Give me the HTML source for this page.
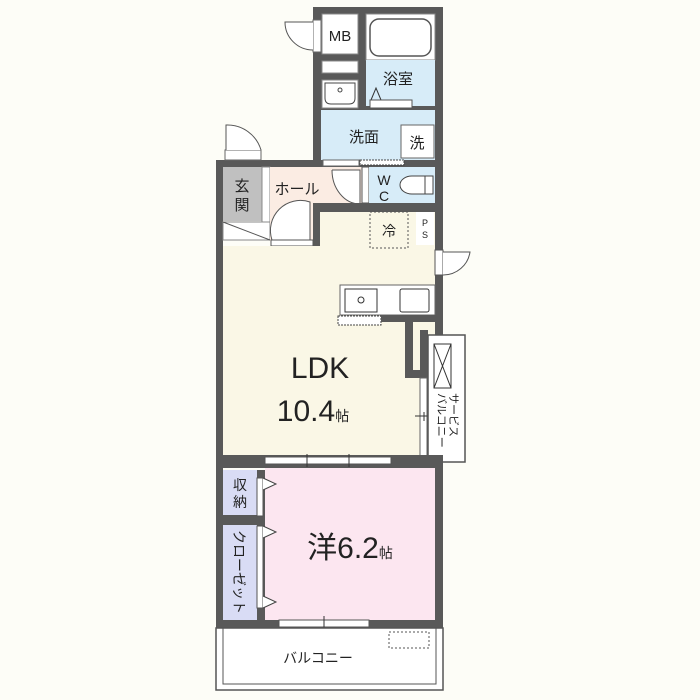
<!DOCTYPE html>
<html><head><meta charset="utf-8"><style>
html,body{margin:0;padding:0;background:#fdfdf7;}
svg{display:block}
text{font-family:"Liberation Sans","Noto Sans CJK JP",sans-serif;fill:#222}
</style></head><body>
<svg width="700" height="700" viewBox="0 0 700 700" xmlns="http://www.w3.org/2000/svg">
<rect width="700" height="700" fill="#fdfdf7"/>
<rect x="313" y="7" width="130" height="206" fill="#595959"/>
<rect x="322" y="14" width="36" height="40" fill="#fff" stroke="#888" stroke-width="1"/>
<text x="340" y="41" font-size="15" text-anchor="middle">MB</text>
<rect x="313" y="20" width="8" height="32" fill="#fff" stroke="#666"/>
<path d="M313 22 H285 A28 28 0 0 0 313 50" fill="#fff" stroke="#555"/>
<rect x="366" y="14" width="69" height="46" fill="#fff" stroke="#888"/>
<rect x="370" y="19" width="61" height="37" rx="9" fill="#fff" stroke="#555" stroke-width="1.5"/>
<rect x="366" y="60" width="69" height="46" fill="#d7ecf8"/>
<text x="398" y="84" font-size="15" text-anchor="middle">浴室</text>
<path d="M371 100 L376 88 L381 100" fill="none" stroke="#333"/>
<rect x="370" y="100" width="42" height="8" fill="#fff" stroke="#555"/>
<rect x="322" y="61" width="36" height="12" fill="#fff" stroke="#888"/>
<rect x="322" y="80" width="36" height="28" fill="#fff" stroke="#888"/>
<path d="M325 83 H355 V98 Q355 104 349 104 H331 Q325 104 325 98 Z" fill="#fff" stroke="#444"/>
<circle cx="340" cy="90" r="2" fill="none" stroke="#444"/>
<rect x="321" y="110" width="114" height="50" fill="#d7ecf8"/>
<text x="364" y="142" font-size="15" text-anchor="middle">洗面</text>
<rect x="401" y="125" width="33" height="33" fill="#fff" stroke="#666"/>
<text x="417" y="148" font-size="15" text-anchor="middle">洗</text>
<rect x="323" y="160" width="36" height="6" fill="#fff" stroke="#666"/>
<rect x="360" y="160" width="44" height="5" fill="#fff" stroke="#444" stroke-dasharray="2 1"/>
<rect x="216" y="160" width="104" height="7" fill="#595959"/>
<rect x="216" y="160" width="7" height="465" fill="#595959"/>
<rect x="435" y="200" width="8" height="135" fill="#595959"/>
<rect x="225" y="150" width="36" height="10" fill="#fff" stroke="#666"/>
<path d="M226 150 V125 A35 35 0 0 1 261 150" fill="#fff" stroke="#555"/>
<rect x="223" y="167" width="39" height="54" fill="#c0c0c0"/>
<text x="242" y="191" font-size="15" text-anchor="middle">玄</text>
<text x="242" y="210" font-size="15" text-anchor="middle">関</text>
<rect x="262" y="167" width="8" height="73" fill="#fff" stroke="#888"/>
<rect x="223" y="222" width="47" height="18" fill="#fff" stroke="#888"/>
<path d="M223 222 L270 240" stroke="#555"/>
<rect x="270" y="167" width="94" height="37" fill="#fbece3"/>
<rect x="270" y="204" width="43" height="37" fill="#fbece3"/>
<text x="297" y="194" font-size="15" text-anchor="middle">ホール</text>
<rect x="313" y="203" width="7" height="43" fill="#595959"/>
<path d="M332 170 H360 V204 A28 34 0 0 1 332 170" fill="#fff" stroke="#555"/>
<rect x="362" y="167" width="7" height="36" fill="#fff" stroke="#555"/>
<path d="M272 240 A30 30 0 0 1 310 202 V240 Z" fill="#fff" stroke="#555"/>
<rect x="271" y="240" width="42" height="6" fill="#fff" stroke="#555"/>
<rect x="369" y="167" width="66" height="36" fill="#d7ecf8"/>
<text x="384" y="185" font-size="14" text-anchor="middle">W</text>
<text x="384" y="201" font-size="14" text-anchor="middle">C</text>
<path d="M432 176 H412 A12 9 0 0 0 412 194 H432 Z" fill="#fff" stroke="#444"/>
<rect x="425" y="176" width="8" height="18" fill="#fff" stroke="#444"/>
<rect x="320" y="203" width="123" height="9" fill="#595959"/>
<path d="M223 246 H313 V246 H320 V212 H435 V322 H405 V378 H420 V455 H223 Z" fill="#faf7e6"/>
<rect x="370" y="212" width="38" height="36" fill="none" stroke="#555" stroke-dasharray="2 2"/>
<text x="389" y="236" font-size="14" text-anchor="middle">冷</text>
<rect x="416" y="212" width="18" height="33" fill="#fff"/>
<text x="425" y="226" font-size="9" text-anchor="middle">P</text>
<text x="425" y="238" font-size="9" text-anchor="middle">S</text>
<rect x="435" y="250" width="8" height="25" fill="#fff" stroke="#555"/>
<path d="M443 252 H470 A27 27 0 0 1 443 275" fill="#fff" stroke="#555"/>
<rect x="340" y="285" width="95" height="30" fill="#fff" stroke="#666"/>
<rect x="345" y="289" width="32" height="23" fill="#fff" stroke="#333"/>
<circle cx="361" cy="300" r="3" fill="none" stroke="#333"/>
<rect x="400" y="289" width="29" height="23" rx="2" fill="#fff" stroke="#333"/>
<rect x="338" y="316" width="43" height="9" fill="#fff" stroke="#444" stroke-dasharray="2 1"/>
<rect x="381" y="315" width="62" height="7" fill="#595959"/>
<rect x="413" y="322" width="22" height="13" fill="#faf7e6"/>
<rect x="413" y="335" width="7" height="43" fill="#faf7e6"/>
<rect x="405" y="322" width="8" height="56" fill="#595959"/>
<rect x="405" y="370" width="15" height="8" fill="#595959"/>
<rect x="420" y="330" width="8" height="130" fill="#595959"/>
<rect x="420" y="378" width="7" height="78" fill="#fff" stroke="#666"/>
<path d="M415 416 H432 M424 412 V421" stroke="#333"/>
<rect x="428" y="335" width="37" height="127" fill="#fff" stroke="#555" stroke-width="1.5"/>
<rect x="434" y="344" width="17" height="44" fill="#fff" stroke="#333"/>
<path d="M434 344 L451 388 M451 344 L434 388" stroke="#333"/>
<text font-size="11" transform="translate(450,393) rotate(90)">サービス</text>
<text font-size="11" transform="translate(438,393) rotate(90)">バルコニー</text>
<text x="320" y="378" font-size="30" text-anchor="middle">LDK</text>
<text x="313" y="421" font-size="30" text-anchor="middle">10.4<tspan font-size="14">帖</tspan></text>
<rect x="216" y="455" width="227" height="13" fill="#595959"/>
<rect x="435" y="455" width="8" height="170" fill="#595959"/>
<rect x="265" y="457" width="126" height="7" fill="#fff" stroke="#555"/>
<path d="M307 454 V467 M349 454 V467" stroke="#333"/>
<rect x="265" y="468" width="170" height="152" fill="#fce6f0"/>
<rect x="223" y="470" width="34" height="45" fill="#d9dcf5"/>
<text x="240" y="490" font-size="14" text-anchor="middle">収</text>
<text x="240" y="507" font-size="14" text-anchor="middle">納</text>
<rect x="223" y="515" width="42" height="10" fill="#595959"/>
<rect x="223" y="525" width="34" height="95" fill="#d9dcf5"/>
<text font-size="14" transform="translate(234,530) rotate(90)">クローゼット</text>
<rect x="257" y="470" width="8" height="150" fill="#595959"/>
<rect x="257" y="478" width="6" height="38" fill="#fff" stroke="#555"/>
<rect x="257" y="526" width="6" height="82" fill="#fff" stroke="#555"/>
<path d="M263 478 L276 484 L263 490 M263 526 L276 532 L263 538 M263 596 L276 602 L263 608" fill="#fff" stroke="#444"/>
<text x="350" y="558" font-size="30" text-anchor="middle">洋6.2<tspan font-size="14">帖</tspan></text>
<rect x="216" y="620" width="227" height="8" fill="#595959"/>
<rect x="279" y="620" width="90" height="7" fill="#fff" stroke="#555"/>
<path d="M324 616 V632" stroke="#333"/>
<rect x="216" y="628" width="227" height="62" fill="#fff" stroke="#555" stroke-width="1.5"/>
<rect x="223" y="628" width="213" height="56" fill="none" stroke="#555"/>
<rect x="389" y="632" width="40" height="16" fill="none" stroke="#555" stroke-dasharray="2 2"/>
<text x="318" y="663" font-size="14" text-anchor="middle">バルコニー</text>
</svg>
</body></html>
